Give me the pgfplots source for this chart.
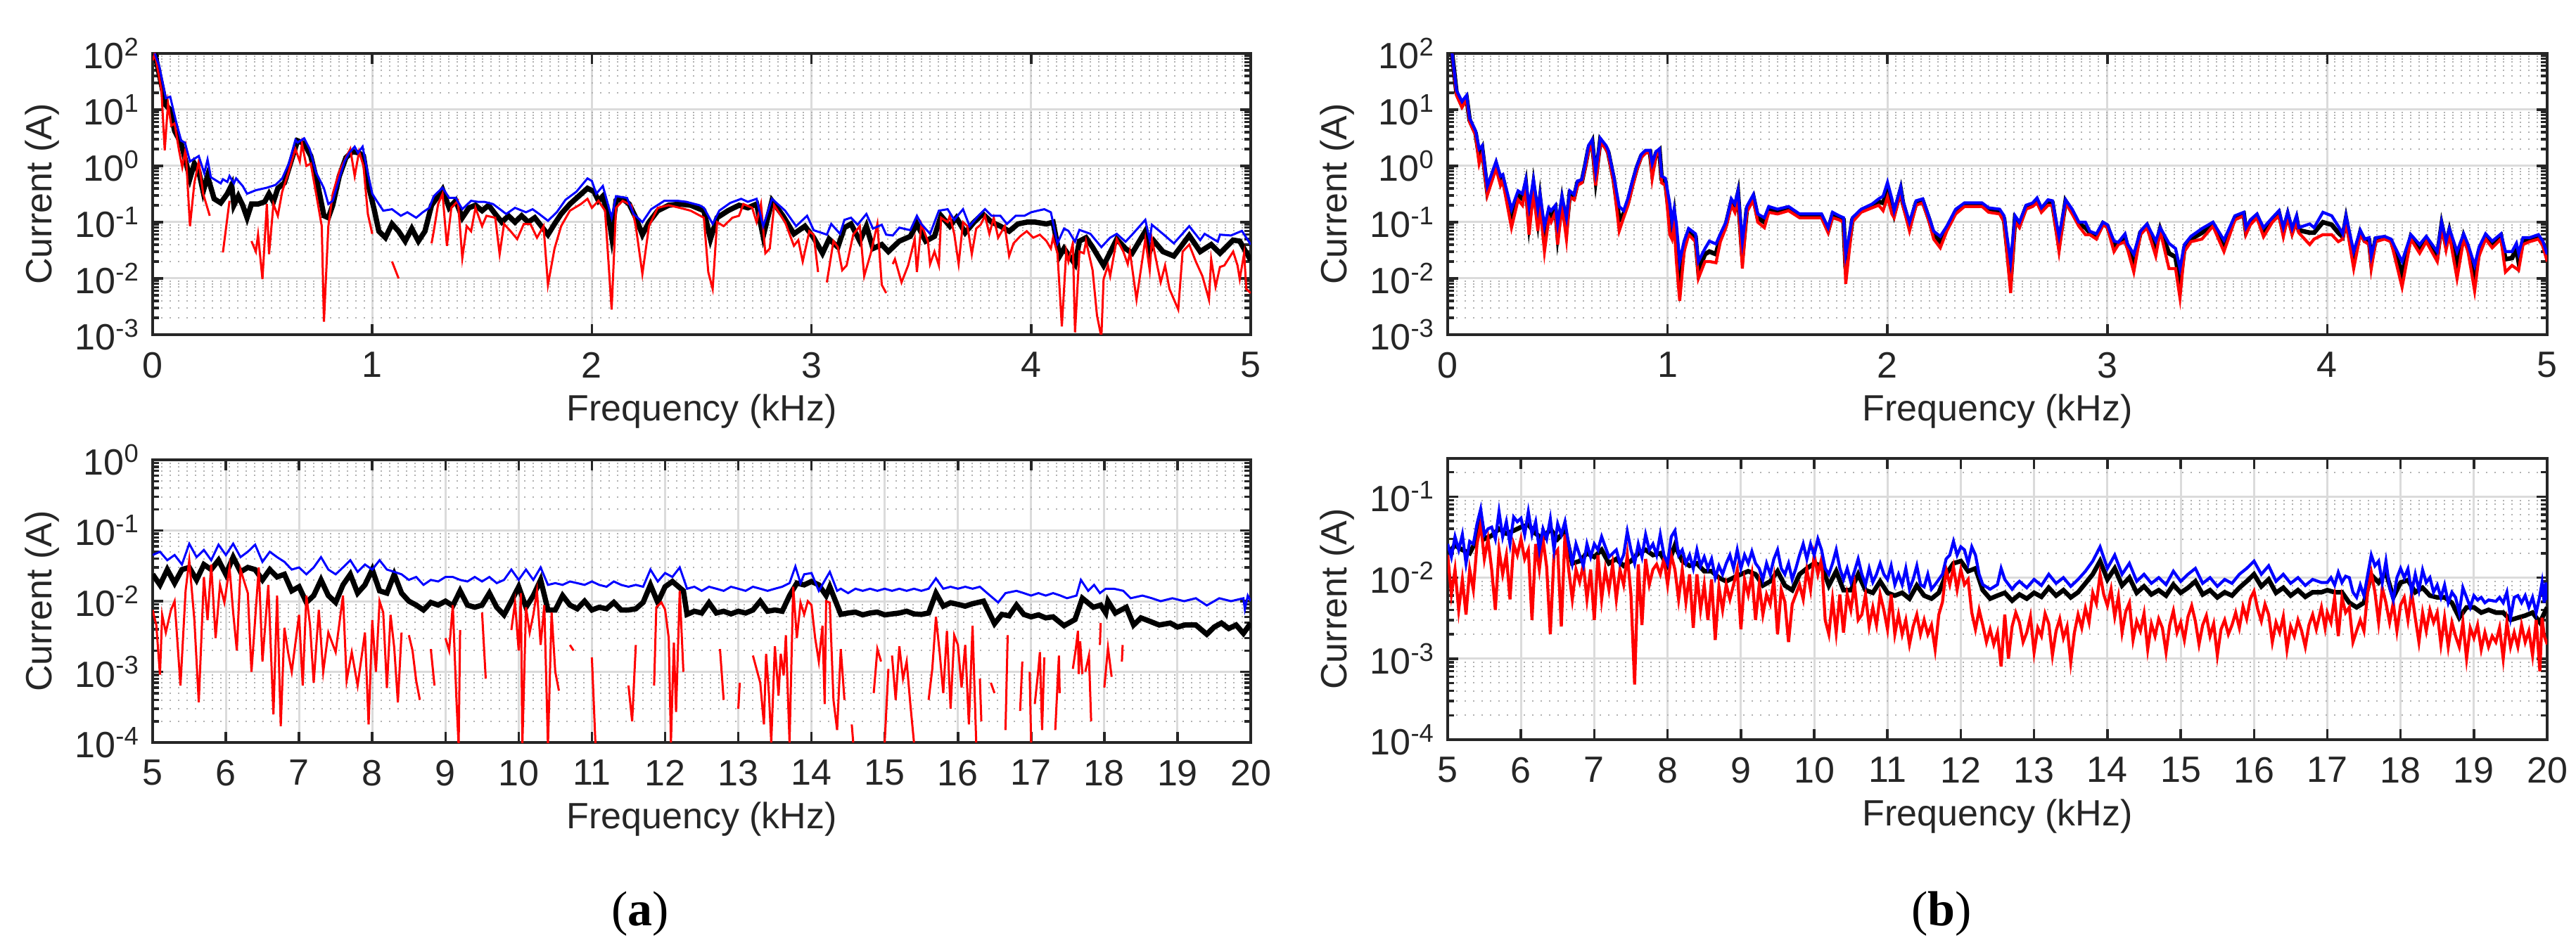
\documentclass[border=0pt]{standalone}
\usepackage{fontspec}
\setmainfont{Liberation Sans}
\newfontfamily\capfont{Liberation Serif}
\usepackage{pgfplots}
\pgfplotsset{compat=1.18}
\definecolor{gridc}{gray}{0.86}
\definecolor{minc}{gray}{0.70}
\definecolor{axc}{gray}{0.15}
\definecolor{mblue}{rgb}{0,0,1}
\definecolor{mred}{rgb}{1,0,0}
\pgfplotsset{every axis/.append style={
    scale only axis, anchor=south west,
    axis line style={axc, line width=0.7pt},
    tick style={axc, line width=0.7pt},
    tick align=inside,
    major tick length=3pt, minor tick length=1.8pt,
    grid=both,
    major grid style={gridc, line width=0.6pt},
    minor grid style={minc, dotted, line width=0.4pt},
    ticklabel style={font=\fontsize{10.4}{12}\selectfont, text=axc},
    label style={font=\fontsize{10.4}{12}\selectfont, text=axc},
    ylabel={Current (A)},
    xlabel={Frequency (kHz)},
    ylabel style={at={(axis description cs:-0.1006,0.5)}, anchor=center},
    xlabel style={at={(axis description cs:0.5,0)}, anchor=center, yshift=-21.8pt},
    xticklabel style={yshift=-1.5pt},
    unbounded coords=jump,
}}
\begin{document}
\begin{tikzpicture}
\useasboundingbox (0,0) rectangle (732.4pt,270.6pt);
% ---------------- (a) top ----------------
\begin{axis}[ymode=log, at={(43.4pt,175.4pt)}, width=312.2pt, height=80pt,
  xmin=0, xmax=5, xtick={0,1,2,3,4,5}, xticklabels={0,1,2,3,4,5},
  ymin=0.001, ymax=100,
  ytick={0.001,0.01,0.1,1,10,100},
  yticklabels={10\textsuperscript{-3},10\textsuperscript{-2},10\textsuperscript{-1},10\textsuperscript{0},10\textsuperscript{1},10\textsuperscript{2}},
  minor ytick={0.002,0.003,0.004,0.005,0.006,0.007,0.008,0.009,0.02,0.03,0.04,0.05,0.06,0.07,0.08,0.09,0.2,0.3,0.4,0.5,0.6,0.7,0.8,0.9,2,3,4,5,6,7,8,9,20,30,40,50,60,70,80,90}]
\addplot[black, line width=1.5pt] coordinates {(0.01,100)(0.06,12)(0.08,10)(0.1,4.2)(0.13,2.5)(0.17,0.6)(0.19,1.1)(0.21,0.8)(0.23,0.35)(0.25,0.66)(0.28,0.26)(0.31,0.22)(0.34,0.32)(0.36,0.46)(0.37,0.2)(0.39,0.29)(0.41,0.2)(0.43,0.12)(0.45,0.21)(0.48,0.21)(0.51,0.23)(0.53,0.32)(0.55,0.23)(0.57,0.4)(0.6,0.5)(0.63,1.2)(0.66,2.8)(0.69,2.5)(0.72,1.5)(0.75,0.5)(0.78,0.13)(0.8,0.12)(0.82,0.2)(0.85,0.66)(0.88,1.4)(0.91,1.8)(0.94,1.7)(0.96,1.5)(0.98,0.5)(1.01,0.16)(1.03,0.069)(1.06,0.053)(1.09,0.093)(1.12,0.069)(1.15,0.046)(1.18,0.077)(1.21,0.046)(1.24,0.069)(1.27,0.2)(1.3,0.29)(1.32,0.38)(1.35,0.18)(1.38,0.24)(1.41,0.12)(1.44,0.18)(1.47,0.2)(1.5,0.16)(1.53,0.2)(1.56,0.14)(1.59,0.1)(1.62,0.13)(1.65,0.1)(1.68,0.13)(1.71,0.1)(1.74,0.12)(1.77,0.085)(1.8,0.06)(1.83,0.093)(1.86,0.14)(1.9,0.21)(1.94,0.29)(1.98,0.4)(2.01,0.35)(2.03,0.24)(2.05,0.29)(2.08,0.1)(2.09,0.056)(2.11,0.24)(2.14,0.26)(2.17,0.21)(2.2,0.12)(2.23,0.06)(2.26,0.1)(2.3,0.16)(2.35,0.2)(2.4,0.21)(2.45,0.2)(2.51,0.16)(2.54,0.05)(2.57,0.12)(2.62,0.16)(2.67,0.2)(2.71,0.18)(2.75,0.21)(2.78,0.056)(2.82,0.24)(2.87,0.13)(2.92,0.062)(2.97,0.085)(3.01,0.053)(3.05,0.028)(3.08,0.05)(3.12,0.036)(3.15,0.08)(3.18,0.093)(3.22,0.046)(3.25,0.085)(3.28,0.034)(3.32,0.04)(3.35,0.03)(3.4,0.046)(3.45,0.056)(3.48,0.093)(3.52,0.046)(3.56,0.056)(3.59,0.13)(3.63,0.085)(3.66,0.12)(3.7,0.065)(3.74,0.1)(3.78,0.14)(3.82,0.1)(3.86,0.085)(3.9,0.069)(3.94,0.093)(3.98,0.1)(4.02,0.1)(4.07,0.093)(4.1,0.1)(4.13,0.025)(4.15,0.034)(4.2,0.018)(4.22,0.046)(4.25,0.053)(4.28,0.036)(4.33,0.017)(4.39,0.05)(4.43,0.034)(4.46,0.028)(4.52,0.069)(4.54,0.03)(4.56,0.046)(4.6,0.03)(4.65,0.025)(4.72,0.058)(4.77,0.03)(4.82,0.04)(4.86,0.028)(4.92,0.048)(4.95,0.046)(5.0,0.021)};
\addplot[mred, line width=0.6pt] coordinates {(0,75)(0.01,100)(0.04,22)(0.055,1.9)(0.07,13)(0.085,5.2)(0.1,5.7)(0.12,1.9)(0.135,0.95)(0.15,2.0)(0.17,0.085)(0.19,0.5)(0.21,1.2)(0.23,0.32)(0.26,0.13)(0.27,nan)(0.32,0.029)(0.35,0.24)(0.37,nan)(0.45,0.046)(0.47,0.03)(0.48,0.06)(0.5,0.0097)(0.52,0.21)(0.53,0.027)(0.55,0.21)(0.57,0.13)(0.59,0.35)(0.62,0.8)(0.65,2.0)(0.67,1.2)(0.68,2.5)(0.7,1.0)(0.72,1.1)(0.75,0.24)(0.77,0.085)(0.78,0.0017)(0.8,0.085)(0.82,0.32)(0.85,0.8)(0.88,1.4)(0.9,2.0)(0.92,0.66)(0.94,1.8)(0.96,1.0)(0.98,0.14)(1.0,0.062)(1.02,nan)(1.09,0.02)(1.12,0.01)(1.13,nan)(1.27,0.042)(1.28,0.069)(1.3,0.21)(1.32,0.32)(1.34,0.038)(1.36,0.18)(1.39,0.24)(1.41,0.023)(1.43,0.085)(1.45,0.069)(1.47,0.18)(1.5,0.085)(1.52,0.13)(1.56,0.12)(1.58,0.027)(1.6,0.093)(1.63,0.069)(1.66,0.05)(1.69,0.093)(1.72,0.093)(1.75,0.053)(1.78,0.085)(1.8,0.0077)(1.83,0.034)(1.86,0.085)(1.9,0.16)(1.95,0.21)(1.98,0.26)(2.0,0.18)(2.03,0.24)(2.06,0.16)(2.09,0.0028)(2.11,0.18)(2.14,0.24)(2.18,0.2)(2.2,0.085)(2.23,0.012)(2.26,0.085)(2.3,0.18)(2.35,0.2)(2.4,0.18)(2.45,0.16)(2.51,0.12)(2.53,0.013)(2.55,0.0065)(2.57,0.1)(2.6,0.085)(2.64,0.12)(2.67,0.13)(2.69,0.21)(2.73,0.18)(2.75,0.1)(2.77,0.21)(2.79,0.028)(2.81,0.034)(2.83,0.2)(2.88,0.1)(2.92,0.038)(2.94,0.048)(2.96,0.02)(2.99,0.069)(3.01,0.06)(3.03,0.013)(3.05,nan)(3.07,0.0085)(3.1,0.046)(3.12,0.036)(3.14,0.014)(3.16,0.017)(3.19,0.06)(3.22,0.085)(3.24,0.011)(3.27,0.028)(3.3,0.093)(3.32,0.0077)(3.34,0.0055)(3.35,nan)(3.37,0.018)(3.38,0.022)(3.41,0.0085)(3.44,0.017)(3.47,0.05)(3.48,0.013)(3.5,0.093)(3.53,0.046)(3.54,0.018)(3.56,0.03)(3.58,0.017)(3.59,0.12)(3.62,0.1)(3.63,0.13)(3.65,0.062)(3.67,0.018)(3.69,0.1)(3.71,0.085)(3.73,0.027)(3.75,0.077)(3.77,0.09)(3.79,0.13)(3.81,0.062)(3.83,0.12)(3.85,0.053)(3.88,0.085)(3.9,0.025)(3.92,0.042)(3.95,0.056)(3.98,0.069)(4.01,0.053)(4.04,0.06)(4.07,0.046)(4.09,0.034)(4.1,0.053)(4.12,0.028)(4.14,0.0014)(4.16,0.03)(4.17,0.02)(4.19,0.042)(4.2,0.0011)(4.22,0.03)(4.24,0.028)(4.25,0.046)(4.28,0.014)(4.3,0.0022)(4.32,0.0009)(4.33,0.0097)(4.35,0.017)(4.36,0.011)(4.39,0.05)(4.42,0.03)(4.44,0.018)(4.45,0.03)(4.48,0.0042)(4.52,0.05)(4.54,0.014)(4.55,0.05)(4.59,0.0085)(4.61,0.017)(4.63,0.0065)(4.67,0.0028)(4.69,0.03)(4.72,0.04)(4.75,0.02)(4.78,0.011)(4.81,0.0042)(4.82,0.022)(4.84,0.0071)(4.86,0.016)(4.88,0.017)(4.92,0.03)(4.94,0.017)(4.95,0.0097)(4.97,0.028)(4.98,0.0065)(5.0,0.0055)};
\addplot[mblue, line width=0.6pt] coordinates {(0.01,100)(0.03,60)(0.06,16)(0.08,17)(0.106,6.3)(0.13,2.8)(0.147,2.6)(0.17,1.2)(0.21,1.5)(0.235,0.74)(0.25,1.3)(0.265,0.63)(0.31,0.49)(0.32,0.58)(0.34,0.52)(0.35,0.66)(0.37,0.49)(0.38,0.6)(0.41,0.44)(0.43,0.32)(0.47,0.37)(0.52,0.41)(0.56,0.46)(0.59,0.6)(0.62,1.1)(0.65,2.9)(0.66,2.6)(0.69,3.1)(0.715,2.0)(0.745,0.75)(0.78,0.4)(0.8,0.21)(0.82,0.24)(0.85,0.6)(0.874,1.2)(0.895,1.7)(0.92,2.2)(0.935,1.7)(0.956,2.2)(0.98,0.74)(1.0,0.32)(1.02,0.24)(1.05,0.16)(1.09,0.17)(1.13,0.13)(1.16,0.15)(1.2,0.12)(1.23,0.15)(1.26,0.18)(1.28,0.29)(1.32,0.41)(1.35,0.27)(1.38,0.27)(1.41,0.17)(1.45,0.24)(1.48,0.23)(1.51,0.23)(1.55,0.21)(1.61,0.14)(1.65,0.18)(1.7,0.15)(1.73,0.17)(1.76,0.14)(1.8,0.106)(1.84,0.15)(1.88,0.25)(1.93,0.35)(1.98,0.6)(2.0,0.54)(2.02,0.32)(2.05,0.44)(2.09,0.12)(2.11,0.29)(2.16,0.27)(2.19,0.14)(2.23,0.1)(2.27,0.17)(2.33,0.24)(2.39,0.24)(2.43,0.23)(2.49,0.2)(2.51,0.18)(2.55,0.093)(2.58,0.16)(2.63,0.22)(2.68,0.26)(2.71,0.23)(2.75,0.26)(2.78,0.085)(2.82,0.26)(2.88,0.16)(2.93,0.085)(2.98,0.13)(3.01,0.072)(3.07,0.06)(3.09,0.093)(3.13,0.062)(3.15,0.11)(3.18,0.12)(3.21,0.09)(3.25,0.14)(3.28,0.077)(3.32,0.09)(3.34,0.06)(3.37,0.058)(3.4,0.08)(3.45,0.072)(3.48,0.13)(3.5,0.093)(3.54,0.062)(3.58,0.16)(3.62,0.17)(3.65,0.11)(3.69,0.17)(3.72,0.085)(3.76,0.13)(3.79,0.17)(3.82,0.13)(3.86,0.13)(3.89,0.093)(3.93,0.13)(3.97,0.13)(4.0,0.15)(4.03,0.16)(4.06,0.17)(4.09,0.15)(4.12,0.042)(4.15,0.077)(4.17,0.07)(4.2,0.045)(4.22,0.073)(4.27,0.062)(4.32,0.036)(4.36,0.053)(4.39,0.062)(4.43,0.045)(4.46,0.06)(4.52,0.11)(4.54,0.048)(4.55,0.09)(4.6,0.062)(4.65,0.042)(4.72,0.085)(4.77,0.048)(4.79,0.062)(4.85,0.045)(4.86,0.06)(4.91,0.058)(4.96,0.07)(5.0,0.04)};
\end{axis}
% ---------------- (b) top ----------------
\begin{axis}[ymode=log, at={(411.6pt,175.4pt)}, width=312.6pt, height=80pt,
  xmin=0, xmax=5, xtick={0,1,2,3,4,5}, xticklabels={0,1,2,3,4,5},
  ymin=0.001, ymax=100,
  ytick={0.001,0.01,0.1,1,10,100},
  yticklabels={10\textsuperscript{-3},10\textsuperscript{-2},10\textsuperscript{-1},10\textsuperscript{0},10\textsuperscript{1},10\textsuperscript{2}},
  minor ytick={0.002,0.003,0.004,0.005,0.006,0.007,0.008,0.009,0.02,0.03,0.04,0.05,0.06,0.07,0.08,0.09,0.2,0.3,0.4,0.5,0.6,0.7,0.8,0.9,2,3,4,5,6,7,8,9,20,30,40,50,60,70,80,90}]
\addplot[black, line width=1.3pt] coordinates {(0.02,100)(0.04,20)(0.065,12)(0.086,16)(0.1,6.5)(0.127,3.8)(0.143,1.5)(0.157,2.0)(0.18,0.36)(0.22,1.05)(0.24,0.55)(0.25,0.62)(0.29,0.12)(0.32,0.3)(0.34,0.26)(0.355,0.48)(0.37,0.1)(0.39,0.45)(0.41,0.11)(0.42,0.25)(0.44,0.05)(0.46,0.15)(0.47,0.13)(0.49,0.17)(0.5,0.06)(0.52,0.24)(0.54,0.08)(0.555,0.32)(0.575,0.28)(0.59,0.5)(0.61,0.53)(0.625,1.0)(0.64,2.0)(0.657,2.7)(0.673,0.6)(0.694,2.9)(0.72,2.1)(0.73,1.75)(0.755,0.58)(0.78,0.11)(0.8,0.14)(0.82,0.23)(0.84,0.48)(0.86,0.92)(0.88,1.5)(0.9,1.8)(0.92,1.8)(0.93,0.8)(0.947,1.65)(0.963,1.9)(0.973,0.58)(0.99,0.52)(1.01,0.11)(1.02,0.07)(1.03,0.13)(1.04,0.045)(1.055,0.009)(1.075,0.038)(1.096,0.07)(1.127,0.055)(1.14,0.014)(1.17,0.027)(1.19,0.03)(1.22,0.027)(1.24,0.055)(1.265,0.09)(1.29,0.23)(1.306,0.18)(1.32,0.32)(1.34,0.025)(1.36,0.17)(1.39,0.28)(1.41,0.12)(1.44,0.1)(1.46,0.17)(1.5,0.155)(1.55,0.175)(1.6,0.13)(1.66,0.13)(1.7,0.13)(1.73,0.072)(1.75,0.135)(1.78,0.12)(1.8,0.11)(1.81,0.015)(1.84,0.11)(1.88,0.16)(1.93,0.19)(1.96,0.23)(1.98,0.22)(2.0,0.36)(2.02,0.2)(2.03,0.14)(2.06,0.38)(2.07,0.22)(2.1,0.085)(2.13,0.22)(2.16,0.24)(2.19,0.11)(2.21,0.06)(2.24,0.045)(2.27,0.078)(2.31,0.155)(2.35,0.2)(2.43,0.2)(2.46,0.165)(2.51,0.155)(2.53,0.115)(2.56,0.009)(2.58,0.115)(2.6,0.09)(2.63,0.185)(2.66,0.2)(2.68,0.245)(2.7,0.165)(2.73,0.225)(2.75,0.22)(2.78,0.04)(2.81,0.235)(2.84,0.155)(2.87,0.093)(2.9,0.08)(2.92,0.065)(2.95,0.056)(2.98,0.095)(3.0,0.085)(3.03,0.038)(3.05,0.042)(3.08,0.054)(3.09,0.038)(3.12,0.02)(3.15,0.065)(3.18,0.087)(3.22,0.035)(3.24,0.075)(3.28,0.028)(3.31,0.024)(3.33,0.008)(3.35,0.035)(3.38,0.05)(3.43,0.065)(3.48,0.093)(3.53,0.04)(3.58,0.12)(3.62,0.14)(3.63,0.07)(3.65,0.1)(3.68,0.13)(3.71,0.068)(3.75,0.11)(3.78,0.145)(3.8,0.068)(3.82,0.135)(3.84,0.068)(3.86,0.115)(3.87,0.072)(3.92,0.065)(3.94,0.065)(3.98,0.1)(4.02,0.09)(4.05,0.065)(4.07,0.055)(4.085,0.115)(4.12,0.022)(4.15,0.066)(4.17,0.047)(4.19,0.047)(4.2,0.02)(4.22,0.05)(4.26,0.053)(4.29,0.047)(4.34,0.012)(4.38,0.055)(4.42,0.034)(4.45,0.05)(4.5,0.025)(4.52,0.09)(4.54,0.04)(4.555,0.07)(4.59,0.018)(4.62,0.056)(4.64,0.035)(4.67,0.011)(4.69,0.03)(4.72,0.056)(4.75,0.041)(4.79,0.056)(4.81,0.022)(4.84,0.023)(4.86,0.034)(4.87,0.02)(4.89,0.048)(4.92,0.05)(4.96,0.056)(4.98,0.042)(5.0,0.024)};
\addplot[mred, line width=0.85pt] coordinates {(0.02,100)(0.04,18)(0.065,11)(0.086,15)(0.1,6)(0.127,3.5)(0.143,1.1)(0.157,1.7)(0.18,0.3)(0.22,0.9)(0.24,0.45)(0.25,0.55)(0.29,0.08)(0.32,0.25)(0.34,0.2)(0.355,0.4)(0.37,0.06)(0.39,0.35)(0.41,0.07)(0.42,0.2)(0.44,0.03)(0.46,0.12)(0.47,0.1)(0.49,0.15)(0.5,0.04)(0.52,0.2)(0.54,0.05)(0.555,0.28)(0.575,0.25)(0.59,0.45)(0.61,0.5)(0.625,0.9)(0.64,1.8)(0.657,2.4)(0.673,0.45)(0.694,2.6)(0.72,2.0)(0.73,1.6)(0.755,0.5)(0.78,0.07)(0.8,0.12)(0.82,0.2)(0.84,0.42)(0.86,0.85)(0.88,1.4)(0.9,1.7)(0.92,1.7)(0.93,0.6)(0.947,1.5)(0.963,1.8)(0.973,0.5)(0.99,0.45)(1.01,0.06)(1.02,0.05)(1.03,0.09)(1.04,0.02)(1.055,0.004)(1.075,0.03)(1.096,0.06)(1.127,0.045)(1.14,0.01)(1.17,0.02)(1.19,0.02)(1.22,0.019)(1.24,0.045)(1.265,0.08)(1.29,0.2)(1.306,0.15)(1.32,0.28)(1.34,0.015)(1.36,0.15)(1.39,0.25)(1.41,0.1)(1.44,0.08)(1.46,0.15)(1.5,0.14)(1.55,0.16)(1.6,0.12)(1.66,0.12)(1.7,0.12)(1.73,0.065)(1.75,0.12)(1.78,0.11)(1.8,0.1)(1.81,0.008)(1.84,0.1)(1.88,0.15)(1.93,0.18)(1.96,0.2)(1.98,0.16)(2.0,0.28)(2.02,0.14)(2.03,0.12)(2.06,0.35)(2.07,0.2)(2.1,0.07)(2.13,0.2)(2.16,0.22)(2.19,0.1)(2.21,0.05)(2.24,0.035)(2.27,0.07)(2.31,0.14)(2.35,0.19)(2.43,0.19)(2.46,0.15)(2.51,0.14)(2.53,0.1)(2.56,0.0055)(2.58,0.1)(2.6,0.08)(2.63,0.17)(2.66,0.19)(2.68,0.22)(2.7,0.15)(2.73,0.2)(2.75,0.2)(2.78,0.03)(2.81,0.22)(2.84,0.14)(2.87,0.085)(2.9,0.06)(2.92,0.06)(2.95,0.05)(2.98,0.09)(3.0,0.08)(3.03,0.03)(3.05,0.04)(3.08,0.045)(3.09,0.035)(3.12,0.013)(3.15,0.06)(3.18,0.08)(3.22,0.025)(3.24,0.07)(3.28,0.015)(3.31,0.015)(3.33,0.0045)(3.35,0.03)(3.38,0.045)(3.43,0.05)(3.48,0.085)(3.53,0.03)(3.58,0.11)(3.62,0.13)(3.63,0.06)(3.65,0.09)(3.68,0.12)(3.71,0.055)(3.75,0.1)(3.78,0.13)(3.8,0.055)(3.82,0.12)(3.84,0.06)(3.86,0.1)(3.87,0.065)(3.92,0.04)(3.94,0.05)(3.98,0.06)(4.02,0.06)(4.05,0.045)(4.07,0.05)(4.085,0.1)(4.12,0.015)(4.15,0.06)(4.17,0.045)(4.19,0.04)(4.2,0.015)(4.22,0.045)(4.26,0.05)(4.29,0.045)(4.34,0.007)(4.38,0.05)(4.42,0.028)(4.45,0.045)(4.5,0.02)(4.52,0.08)(4.54,0.032)(4.555,0.06)(4.59,0.01)(4.62,0.05)(4.64,0.03)(4.67,0.006)(4.69,0.025)(4.72,0.05)(4.75,0.035)(4.79,0.05)(4.81,0.013)(4.84,0.017)(4.87,0.014)(4.89,0.04)(4.92,0.045)(4.96,0.05)(4.98,0.038)(5.0,0.02)};
\addplot[mblue, line width=0.85pt] coordinates {(0.02,100)(0.04,22)(0.065,14)(0.086,18)(0.1,7)(0.127,4.2)(0.143,2.0)(0.157,2.3)(0.18,0.44)(0.22,1.2)(0.24,0.66)(0.25,0.7)(0.29,0.17)(0.32,0.36)(0.34,0.32)(0.355,0.57)(0.37,0.19)(0.39,0.57)(0.41,0.17)(0.42,0.31)(0.44,0.085)(0.46,0.18)(0.47,0.16)(0.49,0.2)(0.5,0.093)(0.52,0.29)(0.54,0.12)(0.555,0.36)(0.575,0.31)(0.59,0.54)(0.61,0.57)(0.625,1.1)(0.64,2.3)(0.657,2.9)(0.673,0.8)(0.694,3.1)(0.72,2.3)(0.73,1.9)(0.755,0.66)(0.78,0.19)(0.8,0.16)(0.82,0.27)(0.84,0.54)(0.86,1.0)(0.88,1.6)(0.9,1.9)(0.92,1.9)(0.93,1.1)(0.947,1.8)(0.963,2.0)(0.973,0.66)(0.99,0.6)(1.01,0.21)(1.02,0.1)(1.03,0.17)(1.04,0.093)(1.055,0.02)(1.075,0.046)(1.096,0.077)(1.127,0.062)(1.14,0.02)(1.17,0.034)(1.19,0.046)(1.22,0.041)(1.24,0.062)(1.265,0.1)(1.29,0.26)(1.306,0.21)(1.32,0.36)(1.34,0.046)(1.36,0.19)(1.39,0.31)(1.41,0.14)(1.44,0.12)(1.46,0.19)(1.5,0.17)(1.55,0.19)(1.6,0.14)(1.66,0.14)(1.7,0.14)(1.73,0.08)(1.75,0.15)(1.78,0.13)(1.8,0.12)(1.81,0.027)(1.84,0.12)(1.88,0.17)(1.93,0.21)(1.96,0.26)(1.98,0.29)(2.0,0.51)(2.02,0.26)(2.03,0.16)(2.06,0.42)(2.07,0.24)(2.1,0.1)(2.13,0.24)(2.16,0.26)(2.19,0.12)(2.21,0.069)(2.24,0.056)(2.27,0.085)(2.31,0.17)(2.35,0.22)(2.43,0.22)(2.46,0.18)(2.51,0.17)(2.53,0.13)(2.56,0.02)(2.58,0.13)(2.6,0.1)(2.63,0.2)(2.66,0.22)(2.68,0.27)(2.7,0.18)(2.73,0.25)(2.75,0.24)(2.78,0.056)(2.81,0.25)(2.84,0.17)(2.87,0.1)(2.9,0.1)(2.92,0.069)(2.95,0.062)(2.98,0.1)(3.0,0.09)(3.03,0.046)(3.05,0.044)(3.08,0.062)(3.09,0.042)(3.12,0.027)(3.15,0.069)(3.18,0.093)(3.22,0.046)(3.24,0.08)(3.28,0.042)(3.31,0.034)(3.33,0.015)(3.35,0.04)(3.38,0.056)(3.43,0.077)(3.48,0.1)(3.53,0.048)(3.58,0.13)(3.62,0.15)(3.63,0.08)(3.65,0.11)(3.68,0.14)(3.71,0.08)(3.75,0.12)(3.78,0.16)(3.8,0.08)(3.82,0.15)(3.84,0.077)(3.86,0.13)(3.87,0.08)(3.92,0.093)(3.94,0.08)(3.98,0.15)(4.02,0.13)(4.05,0.085)(4.07,0.062)(4.085,0.13)(4.12,0.03)(4.15,0.072)(4.17,0.05)(4.19,0.053)(4.2,0.025)(4.22,0.053)(4.26,0.056)(4.29,0.05)(4.34,0.02)(4.38,0.06)(4.42,0.04)(4.45,0.056)(4.5,0.03)(4.52,0.1)(4.54,0.046)(4.555,0.077)(4.59,0.03)(4.62,0.062)(4.64,0.04)(4.67,0.017)(4.69,0.036)(4.72,0.062)(4.75,0.046)(4.79,0.062)(4.81,0.03)(4.84,0.03)(4.86,0.042)(4.87,0.028)(4.89,0.053)(4.92,0.053)(4.96,0.06)(4.98,0.046)(5.0,0.027)};
\end{axis}
% ---------------- (a) bottom ----------------
\begin{axis}[ymode=log, at={(43.4pt,59.4pt)}, width=312.2pt, height=80.4pt,
  xmin=5, xmax=20, xtick={5,6,7,8,9,10,11,12,13,14,15,16,17,18,19,20},
  xticklabels={5,6,7,8,9,10,11,12,13,14,15,16,17,18,19,20},
  ymin=0.0001, ymax=1,
  ytick={0.0001,0.001,0.01,0.1,1},
  yticklabels={10\textsuperscript{-4},10\textsuperscript{-3},10\textsuperscript{-2},10\textsuperscript{-1},10\textsuperscript{0}},
  minor ytick={0.0002,0.0003,0.0004,0.0005,0.0006,0.0007,0.0008,0.0009,0.002,0.003,0.004,0.005,0.006,0.007,0.008,0.009,0.02,0.03,0.04,0.05,0.06,0.07,0.08,0.09,0.2,0.3,0.4,0.5,0.6,0.7,0.8,0.9}]
\addplot[black, line width=1.5pt] coordinates {(5.0,0.024)(5.1,0.017)(5.2,0.028)(5.3,0.018)(5.4,0.028)(5.5,0.03)(5.6,0.02)(5.7,0.033)(5.8,0.028)(5.9,0.038)(6.0,0.024)(6.1,0.042)(6.2,0.026)(6.3,0.03)(6.4,0.028)(6.5,0.02)(6.6,0.028)(6.7,0.022)(6.8,0.024)(6.9,0.014)(7.0,0.016)(7.1,0.0096)(7.2,0.012)(7.3,0.02)(7.4,0.012)(7.5,0.0096)(7.6,0.017)(7.7,0.024)(7.8,0.013)(7.9,0.017)(8.0,0.028)(8.1,0.014)(8.2,0.013)(8.3,0.024)(8.4,0.013)(8.5,0.01)(8.6,0.0088)(8.7,0.0075)(8.8,0.0096)(8.9,0.0088)(9.0,0.01)(9.1,0.0086)(9.2,0.014)(9.3,0.0088)(9.4,0.0082)(9.5,0.0088)(9.6,0.013)(9.7,0.0082)(9.8,0.0064)(9.9,0.01)(10.0,0.016)(10.1,0.0082)(10.2,0.012)(10.3,0.02)(10.4,0.0075)(10.5,0.0075)(10.6,0.012)(10.7,0.0088)(10.8,0.0078)(10.9,0.01)(11.0,0.0075)(11.1,0.0082)(11.2,0.0078)(11.3,0.0096)(11.4,0.0075)(11.5,0.0075)(11.6,0.0078)(11.7,0.0096)(11.8,0.017)(11.9,0.0096)(12.0,0.016)(12.1,0.019)(12.25,0.014)(12.3,0.0065)(12.4,0.0072)(12.5,0.0068)(12.6,0.0095)(12.7,0.0068)(12.8,0.0072)(12.9,0.0066)(13.0,0.0072)(13.1,0.0068)(13.2,0.0075)(13.3,0.01)(13.4,0.0072)(13.5,0.0075)(13.6,0.0072)(13.7,0.012)(13.8,0.018)(13.9,0.017)(14.0,0.019)(14.1,0.017)(14.2,0.012)(14.25,0.016)(14.4,0.0065)(14.5,0.0068)(14.6,0.007)(14.7,0.0064)(14.8,0.0068)(14.9,0.007)(15.0,0.0064)(15.1,0.0066)(15.2,0.0068)(15.3,0.0072)(15.4,0.0066)(15.5,0.0065)(15.6,0.0068)(15.7,0.013)(15.8,0.0085)(15.9,0.0095)(16.0,0.009)(16.1,0.0085)(16.2,0.0092)(16.35,0.01)(16.5,0.0048)(16.6,0.0065)(16.7,0.0062)(16.8,0.0088)(16.9,0.0065)(17.0,0.006)(17.1,0.0064)(17.2,0.0058)(17.3,0.006)(17.45,0.0045)(17.6,0.0055)(17.7,0.011)(17.85,0.0082)(17.95,0.0088)(18.02,0.0068)(18.05,0.01)(18.15,0.0068)(18.3,0.0082)(18.4,0.0046)(18.5,0.0058)(18.6,0.0053)(18.75,0.0046)(18.9,0.0049)(19.0,0.0043)(19.1,0.0046)(19.25,0.0046)(19.4,0.0034)(19.5,0.0043)(19.6,0.0049)(19.7,0.0041)(19.8,0.0046)(19.9,0.0035)(20.0,0.0049)};
\addplot[mred, line width=0.6pt] coordinates {(5.0,0.0075)(5.05,0.0046)(5.1,0.00091)(5.13,0.0064)(5.18,0.0036)(5.25,0.0075)(5.3,0.01)(5.38,0.00064)(5.45,0.014)(5.5,0.038)(5.57,0.0054)(5.63,0.00037)(5.7,0.022)(5.75,0.0054)(5.8,0.033)(5.86,0.003)(5.92,0.017)(5.98,0.0096)(6.05,0.03)(6.1,0.0069)(6.15,0.002)(6.2,0.028)(6.3,0.013)(6.35,0.001)(6.45,0.03)(6.5,0.0014)(6.58,0.017)(6.65,0.00025)(6.7,0.012)(6.75,0.00017)(6.8,0.0042)(6.85,0.0019)(6.9,0.001)(7.0,0.0064)(7.05,0.00064)(7.1,0.012)(7.15,0.0046)(7.2,0.0007)(7.27,0.0075)(7.33,0.001)(7.4,0.0036)(7.5,0.0019)(7.6,0.012)(7.65,0.00075)(7.72,0.0019)(7.8,0.00064)(7.9,0.0036)(7.95,0.00018)(8.0,0.0054)(8.05,0.001)(8.1,0.01)(8.15,0.0069)(8.2,0.00059)(8.25,0.0064)(8.3,0.0022)(8.35,0.00037)(8.4,0.0036)(8.45,nan)(8.5,0.0033)(8.55,0.002)(8.6,0.00075)(8.65,0.0004)(8.7,nan)(8.8,0.0021)(8.85,0.00064)(8.9,nan)(9.0,0.003)(9.05,0.002)(9.1,0.0088)(9.15,0.0004)(9.18,0.00009)(9.2,0.0039)(9.25,nan)(9.5,0.0069)(9.55,0.0008)(9.6,nan)(9.9,0.0039)(9.95,0.0096)(10.0,0.002)(10.03,0.013)(10.05,0.00009)(10.1,0.0082)(10.15,0.0036)(10.2,0.0064)(10.25,0.014)(10.3,0.0024)(10.35,0.0088)(10.4,0.00009)(10.45,0.0069)(10.5,0.001)(10.55,0.00054)(10.6,nan)(10.7,0.0024)(10.75,0.002)(10.8,nan)(11.0,0.0016)(11.05,0.00009)(11.1,nan)(11.5,0.00064)(11.55,0.0002)(11.6,0.0024)(11.65,nan)(11.85,0.00064)(11.88,0.0082)(11.95,0.0096)(12.0,0.0076)(12.05,0.003)(12.08,0.0001)(12.12,0.0026)(12.15,0.00027)(12.2,0.014)(12.25,0.001)(12.28,nan)(12.75,0.0021)(12.8,0.0004)(12.85,nan)(13.0,0.0003)(13.02,0.0007)(13.05,nan)(13.2,0.0017)(13.3,0.0007)(13.35,0.00018)(13.38,0.0018)(13.42,0.00046)(13.45,0.0001)(13.5,0.0023)(13.55,0.00046)(13.58,0.0018)(13.62,0.00089)(13.65,0.0033)(13.7,0.0001)(13.75,0.016)(13.8,0.003)(13.85,0.0095)(13.9,0.0065)(13.95,0.01)(14.0,0.0088)(14.05,0.003)(14.1,0.0014)(14.15,0.0045)(14.18,0.00035)(14.2,0.01)(14.25,0.0095)(14.3,0.0004)(14.35,0.00015)(14.4,0.0021)(14.45,0.0004)(14.48,nan)(14.55,0.00018)(14.57,0.0001)(14.6,nan)(14.85,0.0005)(14.9,0.0021)(14.95,0.0014)(14.97,nan)(15.0,0.0001)(15.05,0.0011)(15.07,nan)(15.1,0.0017)(15.15,0.0004)(15.2,0.0023)(15.25,0.0008)(15.3,0.0014)(15.35,0.00035)(15.4,0.0001)(15.45,nan)(15.6,0.0004)(15.65,0.0011)(15.7,0.006)(15.75,0.0019)(15.8,0.0005)(15.85,0.0038)(15.9,0.0003)(15.95,0.0033)(16.0,0.0024)(16.05,0.0006)(16.1,0.0024)(16.15,0.00018)(16.2,0.0045)(16.25,0.0001)(16.27,nan)(16.3,0.0008)(16.32,0.0002)(16.35,nan)(16.45,0.0007)(16.5,0.0005)(16.55,nan)(16.65,0.00015)(16.68,0.0033)(16.7,nan)(16.85,0.00028)(16.88,0.0014)(16.9,nan)(16.98,0.001)(17.0,0.0001)(17.02,nan)(17.05,0.00035)(17.1,0.0011)(17.12,0.0019)(17.15,0.00015)(17.18,0.0016)(17.2,nan)(17.33,0.00015)(17.38,0.0017)(17.39,0.0005)(17.45,nan)(17.57,0.0011)(17.61,0.0021)(17.64,0.0038)(17.65,0.00093)(17.67,0.0027)(17.7,0.00093)(17.72,nan)(17.74,0.001)(17.79,0.0017)(17.82,0.0002)(17.85,nan)(17.94,0.0024)(17.95,0.0049)(17.97,nan)(18.0,0.0006)(18.05,0.0022)(18.1,0.00085)(18.15,nan)(18.24,0.0014)(18.25,0.0024)};
\addplot[mblue, line width=0.6pt] coordinates {(5.0,0.045)(5.1,0.05)(5.2,0.038)(5.3,0.045)(5.4,0.033)(5.5,0.065)(5.6,0.042)(5.7,0.053)(5.8,0.038)(5.9,0.063)(6.0,0.045)(6.1,0.065)(6.2,0.042)(6.3,0.05)(6.4,0.063)(6.5,0.036)(6.6,0.05)(6.7,0.042)(6.8,0.036)(6.9,0.028)(7.0,0.03)(7.1,0.024)(7.2,0.03)(7.3,0.042)(7.4,0.028)(7.5,0.024)(7.6,0.03)(7.7,0.038)(7.8,0.026)(7.9,0.033)(8.0,0.028)(8.1,0.038)(8.2,0.028)(8.3,0.026)(8.4,0.024)(8.5,0.02)(8.6,0.022)(8.7,0.017)(8.8,0.02)(8.9,0.019)(9.0,0.022)(9.1,0.022)(9.2,0.02)(9.3,0.019)(9.4,0.022)(9.5,0.019)(9.6,0.022)(9.7,0.018)(9.8,0.02)(9.9,0.028)(10.0,0.02)(10.1,0.028)(10.2,0.02)(10.3,0.03)(10.4,0.017)(10.5,0.018)(10.6,0.017)(10.7,0.019)(10.8,0.018)(10.9,0.017)(11.0,0.019)(11.1,0.017)(11.2,0.016)(11.3,0.019)(11.4,0.017)(11.5,0.016)(11.6,0.017)(11.7,0.016)(11.8,0.028)(11.9,0.019)(12.0,0.025)(12.1,0.022)(12.2,0.03)(12.3,0.015)(12.4,0.016)(12.5,0.014)(12.6,0.016)(12.7,0.015)(12.8,0.014)(12.9,0.016)(13.0,0.015)(13.1,0.014)(13.2,0.016)(13.3,0.015)(13.4,0.014)(13.5,0.015)(13.6,0.016)(13.7,0.018)(13.78,0.031)(13.85,0.018)(13.9,0.024)(14.0,0.025)(14.1,0.014)(14.25,0.026)(14.35,0.014)(14.4,0.015)(14.5,0.013)(14.6,0.015)(14.7,0.014)(14.8,0.015)(14.9,0.014)(15.0,0.015)(15.1,0.014)(15.2,0.015)(15.3,0.014)(15.4,0.015)(15.5,0.014)(15.6,0.015)(15.7,0.021)(15.8,0.015)(15.9,0.016)(16.0,0.015)(16.1,0.016)(16.2,0.015)(16.3,0.016)(16.4,0.013)(16.55,0.0096)(16.65,0.013)(16.8,0.014)(16.9,0.013)(17.0,0.012)(17.1,0.013)(17.2,0.012)(17.3,0.013)(17.4,0.012)(17.49,0.011)(17.62,0.012)(17.68,0.02)(17.78,0.014)(17.86,0.017)(17.94,0.013)(18.02,0.015)(18.13,0.015)(18.26,0.014)(18.36,0.011)(18.52,0.012)(18.65,0.011)(18.77,0.01)(18.93,0.011)(19.09,0.01)(19.25,0.011)(19.4,0.0087)(19.57,0.011)(19.73,0.01)(19.9,0.011)(19.92,0.0077)(19.96,0.012)(20,0.01)};
\end{axis}
% ---------------- (b) bottom ----------------
\begin{axis}[ymode=log, at={(411.6pt,60.2pt)}, width=312.6pt, height=80pt,
  xmin=5, xmax=20, xtick={5,6,7,8,9,10,11,12,13,14,15,16,17,18,19,20},
  xticklabels={5,6,7,8,9,10,11,12,13,14,15,16,17,18,19,20},
  ymin=0.0001, ymax=0.296,
  ytick={0.0001,0.001,0.01,0.1},
  yticklabels={10\textsuperscript{-4},10\textsuperscript{-3},10\textsuperscript{-2},10\textsuperscript{-1}},
  minor ytick={0.0002,0.0003,0.0004,0.0005,0.0006,0.0007,0.0008,0.0009,0.002,0.003,0.004,0.005,0.006,0.007,0.008,0.009,0.02,0.03,0.04,0.05,0.06,0.07,0.08,0.09,0.2}]
\addplot[black, line width=1.3pt] coordinates {(5.0,0.02)(5.1,0.025)(5.2,0.022)(5.3,0.02)(5.4,0.03)(5.45,0.055)(5.5,0.03)(5.6,0.033)(5.7,0.04)(5.8,0.035)(5.9,0.038)(6.0,0.042)(6.1,0.045)(6.2,0.035)(6.3,0.03)(6.4,0.04)(6.5,0.03)(6.6,0.038)(6.7,0.015)(6.8,0.016)(6.9,0.02)(7.0,0.018)(7.1,0.022)(7.2,0.015)(7.3,0.017)(7.4,0.014)(7.5,0.016)(7.6,0.02)(7.7,0.022)(7.8,0.019)(7.9,0.02)(8.0,0.014)(8.1,0.025)(8.2,0.016)(8.3,0.014)(8.4,0.015)(8.5,0.012)(8.6,0.012)(8.7,0.01)(8.8,0.009)(8.9,0.01)(9.0,0.011)(9.1,0.012)(9.2,0.011)(9.3,0.008)(9.4,0.009)(9.5,0.012)(9.6,0.008)(9.7,0.007)(9.8,0.011)(9.9,0.013)(10.0,0.015)(10.1,0.014)(10.2,0.008)(10.3,0.012)(10.4,0.007)(10.5,0.007)(10.6,0.011)(10.7,0.007)(10.8,0.0065)(10.9,0.009)(11.0,0.0065)(11.1,0.006)(11.2,0.0065)(11.3,0.0055)(11.4,0.008)(11.5,0.006)(11.6,0.0055)(11.7,0.0065)(11.8,0.011)(11.9,0.015)(12.0,0.016)(12.1,0.012)(12.2,0.013)(12.3,0.007)(12.4,0.0055)(12.5,0.006)(12.6,0.0065)(12.7,0.0052)(12.8,0.0062)(12.9,0.0055)(13.0,0.0065)(13.1,0.0058)(13.2,0.0075)(13.3,0.006)(13.4,0.007)(13.5,0.0057)(13.6,0.0066)(13.7,0.0085)(13.8,0.011)(13.9,0.016)(14.0,0.0095)(14.1,0.013)(14.2,0.008)(14.3,0.01)(14.4,0.0065)(14.5,0.0078)(14.6,0.0062)(14.7,0.007)(14.8,0.006)(14.9,0.0082)(15.0,0.0065)(15.1,0.0075)(15.2,0.009)(15.3,0.0062)(15.4,0.007)(15.5,0.0057)(15.6,0.0066)(15.7,0.006)(15.8,0.0075)(15.9,0.009)(16.0,0.011)(16.1,0.0078)(16.2,0.0095)(16.3,0.0065)(16.4,0.0075)(16.5,0.006)(16.6,0.007)(16.7,0.0058)(16.8,0.0066)(16.92,0.0066)(17.0,0.007)(17.1,0.0066)(17.2,0.0066)(17.3,0.0049)(17.4,0.0043)(17.5,0.0049)(17.6,0.0108)(17.7,0.0087)(17.8,0.0116)(17.9,0.0057)(18.0,0.0087)(18.1,0.0093)(18.2,0.0066)(18.3,0.0075)(18.4,0.006)(18.5,0.0057)(18.6,0.0057)(18.7,0.0049)(18.8,0.0032)(18.9,0.0043)(19.0,0.0043)(19.1,0.0037)(19.2,0.004)(19.3,0.0037)(19.4,0.0037)(19.5,0.003)(19.6,0.0032)(19.7,0.0034)(19.8,0.0037)(19.9,0.0028)(20.0,0.0043)};
\addplot[mred, line width=0.85pt] coordinates {(5.0,0.019)(5.05,0.0062)(5.1,0.0126)(5.15,0.004)(5.2,0.0095)(5.25,0.0035)(5.3,0.0126)(5.35,0.0071)(5.4,0.026)(5.45,0.046)(5.5,0.017)(5.55,0.03)(5.6,0.0126)(5.65,0.004)(5.7,0.022)(5.75,0.011)(5.8,0.019)(5.85,0.0054)(5.9,0.026)(5.95,0.019)(6.0,0.03)(6.05,0.017)(6.1,0.022)(6.15,0.003)(6.2,0.026)(6.25,0.0126)(6.3,0.03)(6.35,0.0136)(6.4,0.002)(6.45,0.019)(6.5,0.022)(6.55,0.0025)(6.6,0.034)(6.65,0.0126)(6.7,0.0054)(6.75,0.0126)(6.8,0.0088)(6.85,0.0146)(6.9,0.0054)(6.95,0.0126)(7.0,0.003)(7.05,0.019)(7.1,0.0054)(7.15,0.0126)(7.2,0.0071)(7.25,0.0146)(7.3,0.0054)(7.35,0.0126)(7.4,0.0082)(7.45,0.019)(7.5,0.0062)(7.55,0.00048)(7.6,0.0146)(7.65,0.0026)(7.7,0.017)(7.75,0.0082)(7.8,0.0126)(7.85,0.0146)(7.9,0.011)(7.95,0.017)(8.0,0.0082)(8.05,0.019)(8.1,0.0126)(8.15,0.0054)(8.2,0.0126)(8.25,0.005)(8.3,0.011)(8.35,0.0024)(8.4,0.011)(8.45,0.004)(8.5,0.0082)(8.55,0.003)(8.6,0.0095)(8.65,0.0017)(8.7,0.0077)(8.75,0.004)(8.8,0.0082)(8.85,0.0054)(8.9,0.0082)(8.95,0.0126)(9.0,0.0023)(9.05,0.0095)(9.1,0.0062)(9.15,0.011)(9.2,0.003)(9.25,0.0082)(9.3,0.0035)(9.35,0.0062)(9.4,0.0047)(9.45,0.0095)(9.5,0.002)(9.55,0.0071)(9.6,0.005)(9.65,0.0016)(9.7,0.0047)(9.75,0.0062)(9.8,0.0082)(9.85,0.0054)(9.9,0.0126)(9.95,0.0071)(10.0,0.019)(10.05,0.011)(10.1,0.017)(10.15,0.003)(10.2,0.002)(10.25,0.0054)(10.3,0.0021)(10.35,0.0062)(10.4,0.0021)(10.45,0.0062)(10.5,0.004)(10.55,0.0082)(10.6,0.003)(10.65,0.0035)(10.7,0.0062)(10.75,0.0025)(10.8,0.0043)(10.85,0.0026)(10.9,0.0062)(10.95,0.004)(11.0,0.0023)(11.05,0.0062)(11.1,0.002)(11.15,0.0035)(11.2,0.002)(11.25,0.003)(11.3,0.0015)(11.35,0.0025)(11.4,0.0035)(11.45,0.002)(11.5,0.003)(11.55,0.002)(11.6,0.0026)(11.65,0.0013)(11.7,0.0035)(11.75,0.005)(11.8,0.0126)(11.85,0.0082)(11.9,0.0136)(11.95,0.0071)(12.0,0.0126)(12.05,0.0082)(12.1,0.0095)(12.15,0.0037)(12.2,0.0023)(12.25,0.004)(12.3,0.0026)(12.35,0.0016)(12.4,0.0023)(12.45,0.0015)(12.5,0.0021)(12.55,0.0008)(12.6,0.0035)(12.65,0.001)(12.7,0.0025)(12.75,0.0037)(12.8,0.0028)(12.85,0.0016)(12.9,0.0021)(12.95,0.0033)(13.0,0.0012)(13.05,0.0024)(13.1,0.0019)(13.15,0.0036)(13.2,0.0027)(13.25,0.0011)(13.3,0.0022)(13.35,0.0031)(13.4,0.0018)(13.45,0.0025)(13.5,0.0009)(13.55,0.0021)(13.6,0.0035)(13.65,0.0024)(13.7,0.0042)(13.75,0.0028)(13.8,0.0065)(13.85,0.0048)(13.9,0.011)(13.95,0.0062)(14.0,0.0045)(14.05,0.0072)(14.1,0.0033)(14.15,0.0058)(14.2,0.0021)(14.25,0.0038)(14.3,0.0049)(14.35,0.0017)(14.4,0.0029)(14.45,0.0022)(14.5,0.0036)(14.55,0.0013)(14.6,0.0027)(14.65,0.0019)(14.7,0.0031)(14.75,0.0024)(14.8,0.0012)(14.85,0.0026)(14.9,0.0039)(14.95,0.0021)(15.0,0.0028)(15.05,0.0017)(15.1,0.0033)(15.15,0.0045)(15.2,0.0029)(15.25,0.0015)(15.3,0.0026)(15.35,0.0034)(15.4,0.0019)(15.45,0.0027)(15.5,0.0011)(15.55,0.0023)(15.6,0.003)(15.65,0.002)(15.7,0.0026)(15.75,0.0037)(15.8,0.0024)(15.85,0.0044)(15.9,0.0031)(15.95,0.0055)(16.0,0.0068)(16.05,0.0041)(16.1,0.0029)(16.15,0.0047)(16.2,0.0035)(16.25,0.0016)(16.3,0.0028)(16.35,0.0021)(16.4,0.0033)(16.45,0.0013)(16.5,0.0025)(16.55,0.0019)(16.6,0.003)(16.65,0.0022)(16.7,0.0014)(16.75,0.0026)(16.8,0.0035)(16.85,0.0023)(16.92,0.0043)(16.97,0.0024)(17.0,0.0037)(17.05,0.0028)(17.1,0.0057)(17.15,0.0019)(17.2,0.0057)(17.25,0.0037)(17.3,0.0043)(17.35,0.0016)(17.4,0.0022)(17.45,0.003)(17.5,0.0022)(17.55,0.0066)(17.6,0.0116)(17.65,0.0066)(17.7,0.0028)(17.75,0.0075)(17.8,0.0049)(17.85,0.0028)(17.9,0.0049)(17.95,0.0022)(18.0,0.0046)(18.05,0.0057)(18.1,0.003)(18.15,0.0066)(18.2,0.0032)(18.25,0.0016)(18.3,0.0037)(18.35,0.0022)(18.4,0.004)(18.45,0.0028)(18.5,0.0037)(18.55,0.0015)(18.6,0.0032)(18.65,0.0014)(18.7,0.0028)(18.75,0.0019)(18.8,0.0014)(18.85,0.0028)(18.9,0.001)(18.95,0.0024)(19.0,0.0018)(19.05,0.0026)(19.1,0.0013)(19.15,0.0021)(19.2,0.0014)(19.25,0.0019)(19.3,0.0016)(19.35,0.0024)(19.4,0.001)(19.45,0.0028)(19.5,0.0014)(19.55,0.0021)(19.6,0.0014)(19.65,0.0026)(19.7,0.0016)(19.75,0.0022)(19.8,0.0011)(19.85,0.003)(19.9,0.0007)(19.93,0.0032)(19.96,0.0019)(20.0,0.0015)};
\addplot[mblue, line width=0.85pt] coordinates {(5.0,0.026)(5.05,0.018)(5.1,0.032)(5.15,0.022)(5.2,0.034)(5.25,0.015)(5.3,0.028)(5.35,0.026)(5.4,0.046)(5.45,0.07)(5.5,0.034)(5.55,0.04)(5.6,0.042)(5.65,0.03)(5.7,0.065)(5.75,0.032)(5.8,0.049)(5.85,0.026)(5.9,0.056)(5.95,0.049)(6.0,0.054)(6.05,0.034)(6.1,0.065)(6.15,0.034)(6.2,0.049)(6.25,0.022)(6.3,0.04)(6.35,0.03)(6.4,0.053)(6.45,0.022)(6.5,0.046)(6.55,0.034)(6.6,0.049)(6.65,0.026)(6.7,0.015)(6.75,0.026)(6.8,0.019)(6.85,0.014)(6.9,0.026)(6.95,0.018)(7.0,0.026)(7.05,0.022)(7.1,0.032)(7.15,0.024)(7.2,0.018)(7.3,0.022)(7.35,0.015)(7.4,0.019)(7.45,0.037)(7.5,0.022)(7.55,0.015)(7.6,0.026)(7.65,0.018)(7.7,0.034)(7.75,0.022)(7.8,0.026)(7.85,0.019)(7.9,0.034)(7.95,0.019)(8.0,0.015)(8.05,0.032)(8.1,0.038)(8.15,0.019)(8.2,0.022)(8.25,0.015)(8.3,0.019)(8.35,0.013)(8.4,0.022)(8.45,0.014)(8.5,0.018)(8.55,0.013)(8.6,0.017)(8.65,0.01)(8.7,0.014)(8.75,0.011)(8.8,0.015)(8.85,0.019)(8.9,0.013)(8.95,0.022)(9.0,0.013)(9.05,0.019)(9.1,0.015)(9.15,0.021)(9.2,0.015)(9.25,0.013)(9.3,0.0095)(9.35,0.015)(9.4,0.011)(9.45,0.017)(9.5,0.022)(9.55,0.013)(9.6,0.011)(9.65,0.015)(9.7,0.0095)(9.75,0.013)(9.8,0.019)(9.85,0.026)(9.9,0.017)(9.95,0.026)(10.0,0.019)(10.05,0.03)(10.1,0.022)(10.15,0.013)(10.2,0.011)(10.25,0.015)(10.3,0.022)(10.35,0.013)(10.4,0.0095)(10.45,0.013)(10.5,0.0088)(10.55,0.012)(10.6,0.017)(10.65,0.011)(10.7,0.0082)(10.75,0.013)(10.8,0.0088)(10.85,0.011)(10.9,0.015)(10.95,0.011)(11.0,0.0095)(11.05,0.014)(11.1,0.0082)(11.15,0.011)(11.2,0.0082)(11.25,0.013)(11.3,0.0072)(11.35,0.0095)(11.4,0.014)(11.45,0.0082)(11.5,0.0077)(11.55,0.011)(11.6,0.0072)(11.65,0.0082)(11.7,0.0095)(11.75,0.011)(11.8,0.017)(11.85,0.019)(11.9,0.028)(11.95,0.019)(12.0,0.024)(12.05,0.022)(12.1,0.015)(12.15,0.024)(12.2,0.019)(12.25,0.011)(12.3,0.0082)(12.4,0.0072)(12.5,0.0082)(12.55,0.013)(12.6,0.0095)(12.7,0.0072)(12.75,0.0082)(12.8,0.009)(12.9,0.0075)(13.0,0.0095)(13.1,0.008)(13.2,0.011)(13.3,0.0085)(13.4,0.01)(13.5,0.0078)(13.6,0.0095)(13.7,0.012)(13.8,0.016)(13.9,0.024)(14.0,0.013)(14.1,0.019)(14.2,0.011)(14.3,0.015)(14.4,0.009)(14.5,0.011)(14.6,0.0085)(14.7,0.01)(14.8,0.0082)(14.9,0.012)(15.0,0.009)(15.1,0.011)(15.2,0.013)(15.3,0.0085)(15.4,0.01)(15.5,0.0078)(15.6,0.0095)(15.7,0.0085)(15.8,0.011)(15.9,0.013)(16.0,0.016)(16.1,0.011)(16.2,0.014)(16.3,0.009)(16.4,0.011)(16.5,0.0085)(16.6,0.01)(16.7,0.008)(16.8,0.0095)(16.92,0.0087)(17.0,0.0087)(17.05,0.01)(17.1,0.0081)(17.15,0.0116)(17.2,0.0087)(17.25,0.0104)(17.3,0.01)(17.35,0.0066)(17.4,0.0057)(17.45,0.0081)(17.5,0.006)(17.6,0.019)(17.65,0.014)(17.7,0.016)(17.75,0.0087)(17.8,0.016)(17.85,0.0075)(17.9,0.0053)(17.95,0.01)(18.0,0.013)(18.05,0.01)(18.1,0.0128)(18.15,0.0066)(18.2,0.011)(18.25,0.007)(18.3,0.0124)(18.35,0.0087)(18.4,0.01)(18.45,0.0066)(18.5,0.0081)(18.55,0.0057)(18.6,0.0081)(18.65,0.0049)(18.7,0.0066)(18.75,0.0057)(18.8,0.0037)(18.85,0.0075)(18.9,0.0057)(18.95,0.0043)(19.0,0.006)(19.05,0.0053)(19.1,0.0057)(19.15,0.0049)(19.2,0.0053)(19.3,0.0051)(19.35,0.0057)(19.4,0.0049)(19.45,0.0066)(19.5,0.0032)(19.55,0.0057)(19.6,0.006)(19.65,0.0049)(19.7,0.006)(19.75,0.0043)(19.8,0.0057)(19.85,0.0037)(19.9,0.006)(19.93,0.0087)(19.96,0.0049)(19.98,0.0087)(20.0,0.0053)};
\end{axis}
\node[font=\capfont\fontsize{14}{16}\selectfont] at (182pt,10.6pt) {(\textbf{a})};
\node[font=\capfont\fontsize{14}{16}\selectfont] at (552pt,10.6pt) {(\textbf{b})};
\end{tikzpicture}
\end{document}
